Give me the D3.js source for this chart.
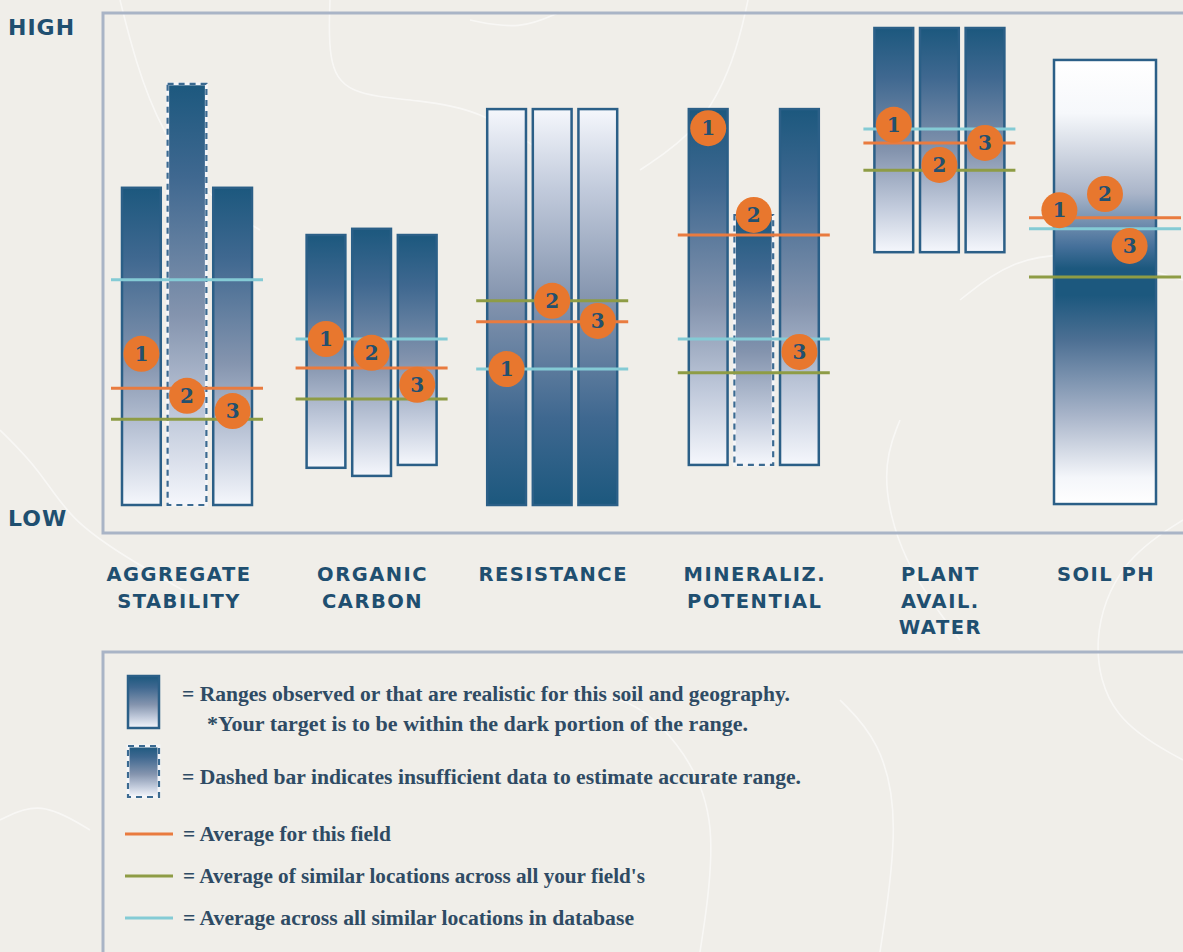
<!DOCTYPE html>
<html>
<head>
<meta charset="utf-8">
<script src="https://cdn.jsdelivr.net/npm/d3@7/dist/d3.min.js"></script>
<style>
  html, body { margin: 0; padding: 0; background: #f0eee9; }
  svg { display: block; }
</style>
</head>
<body>
<svg id="chart" width="1183" height="952"></svg>
<script>
// ---------------- DATA ----------------
const categories = ["AGGREGATE STABILITY", "ORGANIC CARBON", "RESISTANCE", "MINERALIZ. POTENTIAL", "PLANT AVAIL. WATER", "SOIL PH"];
const labelLines = [["AGGREGATE", "STABILITY"], ["ORGANIC", "CARBON"], ["RESISTANCE"], ["MINERALIZ.", "POTENTIAL"], ["PLANT", "AVAIL.", "WATER"], ["SOIL PH"]];
// observed range per field bar (0 = LOW, 100 = HIGH)
const rangeLow  = [[0, 0, 0], [7.8, 6.1, 8.4], [0, 0, 0], [8.4, 8.4, 8.4], [53, 53, 53], [0.2]];
const rangeHigh = [[66.5, 88.3, 66.5], [56.6, 57.9, 56.6], [83, 83, 83], [83, 60.8, 83], [100, 100, 100], [93.3]];
const insufficient = [[false, true, false], [false, false, false], [false, false, false], [false, true, false], [false, false, false], [false]];
const targetZone = ["high", "high", "low", "high", "high", "middle"];
const fieldAvg = [24.5, 28.7, 38.4, 56.6, 75.9, 60.2];   // average for this field
const farmAvg  = [18.0, 22.2, 42.8, 27.7, 70.2, 47.8];   // similar locations across your fields
const dbAvg    = [47.2, 34.8, 28.5, 34.8, 78.8, 57.9];   // all similar locations in database
const sampleIds = ["1", "2", "3"];
const sampleValues = [[31.7, 22.9, 19.7], [34.8, 31.9, 25.2], [28.5, 42.8, 38.6], [79.0, 60.8, 32.1], [79.7, 71.3, 75.9], [61.8, 65.2, 54.3]];
const yLabels = ["LOW", "HIGH"];
const legendRangeText = ["= Ranges observed or that are realistic for this soil and geography.", "*Your target is to be within the dark portion of the range."];
const legendDashedText = "= Dashed bar indicates insufficient data to estimate accurate range.";
const legendLineKeys = ["field", "farm", "db"];
const legendLineText = ["= Average for this field", "= Average of similar locations across all your field's", "= Average across all similar locations in database"];

// ---------------- STYLE ----------------
const C = {
  bg: "#f0eee9", frame: "#a9b4c6", dark: "#1c587e", mid: "#8494ae", light: "#f5f7fc",
  barStroke: "#2b5f87", text: "#1f4f70", legendText: "#2f4b64",
  field: "#e97b3f", farm: "#8e9c45", db: "#84cbd5", marker: "#e8772e", markerText: "#23506f"
};
const lineColor = { field: C.field, farm: C.farm, db: C.db };

const svg = d3.select("#chart");
svg.append("rect").attr("width", 1183).attr("height", 952).attr("fill", C.bg);

// faint background contour texture
const contour = svg.append("g").attr("fill", "none").attr("stroke", "#ffffff").attr("stroke-opacity", 0.55).attr("stroke-width", 1.6);
const curve = d3.line().curve(d3.curveBasis);
[
  [[120, 0], [135, 60], [160, 130], [210, 200], [260, 230]],
  [[330, 0], [328, 60], [345, 95], [420, 100], [480, 110], [540, 150]],
  [[640, 170], [700, 130], [735, 60], [748, 0]],
  [[0, 430], [40, 470], [70, 520], [130, 560], [200, 600]],
  [[960, 300], [1010, 260], [1080, 250], [1183, 280]],
  [[900, 420], [880, 470], [900, 560], [960, 640]],
  [[1183, 520], [1120, 560], [1090, 640], [1110, 720], [1183, 760]],
  [[560, 700], [620, 690], [680, 740], [720, 820], [700, 952]],
  [[840, 700], [880, 740], [900, 820], [880, 952]],
  [[0, 820], [40, 800], [90, 830]],
  [[470, 20], [520, 30], [560, 12]]
].forEach(p => contour.append("path").attr("d", curve(p)));

const defs = svg.append("defs");
function grad(id, stops) {
  const g = defs.append("linearGradient").attr("id", id).attr("x1", 0).attr("y1", 0).attr("x2", 0).attr("y2", 1);
  stops.forEach(([o, c]) => g.append("stop").attr("offset", o).attr("stop-color", c));
}
grad("g-high", [[0, C.dark], [0.22, "#3f6890"], [0.55, C.mid], [0.8, "#c2cbdc"], [1, C.light]]);
grad("g-low", [[0, C.light], [0.2, "#c2cbdc"], [0.48, C.mid], [0.78, "#3f6890"], [1, C.dark]]);
grad("g-middle", [[0, "#ffffff"], [0.12, "#f6f8fb"], [0.3, "#aab5c9"], [0.42, "#45709a"], [0.47, C.dark], [0.53, C.dark], [0.63, "#4c6f93"], [0.8, "#a8b4c9"], [0.94, "#f4f6fa"], [1, "#ffffff"]]);

// ---------------- SCALES ----------------
const y = d3.scaleLinear().domain([0, 100]).range([505, 28]);
const x = d3.scalePoint().domain(categories).range([187, 1105]);
const groupNudge = [0, 1, -2, 16, 18, 0];   // hand-laid spacing of the original layout
const sub = d3.scaleBand().domain([0, 1, 2]).range([-65, 65]).paddingInner(0.15);
const lineHalf = 76;
const markerDx = { 5: [0, 0, -21] }; // layout nudge for the single-bar group

// frames
svg.append("rect").attr("x", 103).attr("y", 13).attr("width", 1200).attr("height", 520)
  .attr("fill", "none").attr("stroke", C.frame).attr("stroke-width", 3);
svg.append("rect").attr("x", 103).attr("y", 652).attr("width", 1200).attr("height", 400)
  .attr("fill", "none").attr("stroke", C.frame).attr("stroke-width", 3);

// y labels
svg.append("g").selectAll("text").data(yLabels).join("text")
  .attr("x", 8)
  .attr("y", d => d === "HIGH" ? y(100) + 7 : y(0) + 21)
  .attr("font-family", "DejaVu Sans").attr("font-weight", "bold").attr("font-size", 22)
  .attr("letter-spacing", 1).attr("fill", C.text).text(d => d);

// bars
const groups = svg.append("g").selectAll("g").data(categories).join("g")
  .attr("transform", (d, i) => `translate(${x(d) + groupNudge[i]},0)`);

groups.each(function (cat, ci) {
  const g = d3.select(this);
  const n = rangeHigh[ci].length;
  const bars = rangeHigh[ci].map((hi, i) => ({ hi, lo: rangeLow[ci][i], dashed: insufficient[ci][i], i, n }));
  const bx = b => b.n === 1 ? -51 : sub(b.i);
  const bw = b => b.n === 1 ? 102 : sub.bandwidth();
  const fill = `url(#g-${targetZone[ci]})`;

  bars.forEach(b => {
    const r = g.append("rect").attr("x", bx(b)).attr("y", y(b.hi))
      .attr("width", bw(b)).attr("height", y(b.lo) - y(b.hi)).attr("fill", fill);
    if (b.dashed) {
      r.attr("stroke", "#f4f5f8").attr("stroke-width", 3);
      g.append("rect").attr("x", bx(b)).attr("y", y(b.hi))
        .attr("width", bw(b)).attr("height", y(b.lo) - y(b.hi))
        .attr("fill", "none").attr("stroke", "#3b6a91").attr("stroke-width", 2.2).attr("stroke-dasharray", "6 5");
    } else {
      r.attr("stroke", C.barStroke).attr("stroke-width", 2.5);
    }
  });

  // reference lines
  const refs = [["db", dbAvg[ci]], ["field", fieldAvg[ci]], ["farm", farmAvg[ci]]];
  refs.forEach(([k, v]) => {
    g.append("line").attr("x1", -lineHalf).attr("x2", lineHalf)
      .attr("y1", y(v)).attr("y2", y(v))
      .attr("stroke", lineColor[k]).attr("stroke-width", 3);
  });

  // sample markers
  sampleIds.forEach((id, i) => {
    const dx = (markerDx[ci] ? markerDx[ci][i] : 0);
    const cx = sub(i) + sub.bandwidth() / 2 + dx;
    const cy = y(sampleValues[ci][i]);
    g.append("circle").attr("cx", cx).attr("cy", cy).attr("r", 18).attr("fill", C.marker);
    g.append("text").attr("x", cx).attr("y", cy + 7).attr("text-anchor", "middle")
      .attr("font-family", "DejaVu Serif").attr("font-weight", "bold").attr("font-size", 20)
      .attr("fill", C.markerText).text(id);
  });
});

// category labels
groups.each(function (cat, ci) {
  const t = d3.select(this).append("text").attr("text-anchor", "middle")
    .attr("font-family", "DejaVu Sans").attr("font-weight", "bold").attr("font-size", 19.5)
    .attr("letter-spacing", 1.5).attr("fill", C.text);
  labelLines[ci].forEach((ln, li) => {
    t.append("tspan").attr("x", ci === 0 ? -8 : 1).attr("y", 581 + li * 26.5).text(ln);
  });
});

// ---------------- LEGEND ----------------
const lg = svg.append("g");
const lgText = (sel) => sel.attr("font-family", "Liberation Serif").attr("font-weight", "bold")
  .attr("font-size", 20).attr("fill", C.legendText).attr("lengthAdjust", "spacingAndGlyphs");

lg.append("rect").attr("x", 128).attr("y", 676).attr("width", 31).attr("height", 52)
  .attr("fill", "url(#g-high)").attr("stroke", C.barStroke).attr("stroke-width", 2.5);
lgText(lg.append("text").attr("x", 182).attr("y", 701).attr("textLength", 608).text(legendRangeText[0]));
lgText(lg.append("text").attr("x", 207).attr("y", 731).attr("textLength", 541).text(legendRangeText[1]));

lg.append("rect").attr("x", 128).attr("y", 746).attr("width", 31).attr("height", 51)
  .attr("fill", "url(#g-high)").attr("stroke", "#f4f5f8").attr("stroke-width", 3);
lg.append("rect").attr("x", 128).attr("y", 746).attr("width", 31).attr("height", 51)
  .attr("fill", "none").attr("stroke", "#3b6a91").attr("stroke-width", 2.2).attr("stroke-dasharray", "6 5");
lgText(lg.append("text").attr("x", 182).attr("y", 784).attr("textLength", 619).text(legendDashedText));

const lineWidths = [208, 462, 451];
legendLineKeys.forEach((k, i) => {
  const ly = 834 + i * 42;
  lg.append("line").attr("x1", 125).attr("x2", 173).attr("y1", ly).attr("y2", ly)
    .attr("stroke", lineColor[k]).attr("stroke-width", 3);
  lgText(lg.append("text").attr("x", 183).attr("y", ly + 7).attr("textLength", lineWidths[i]).text(legendLineText[i]));
});
</script>
</body>
</html>
